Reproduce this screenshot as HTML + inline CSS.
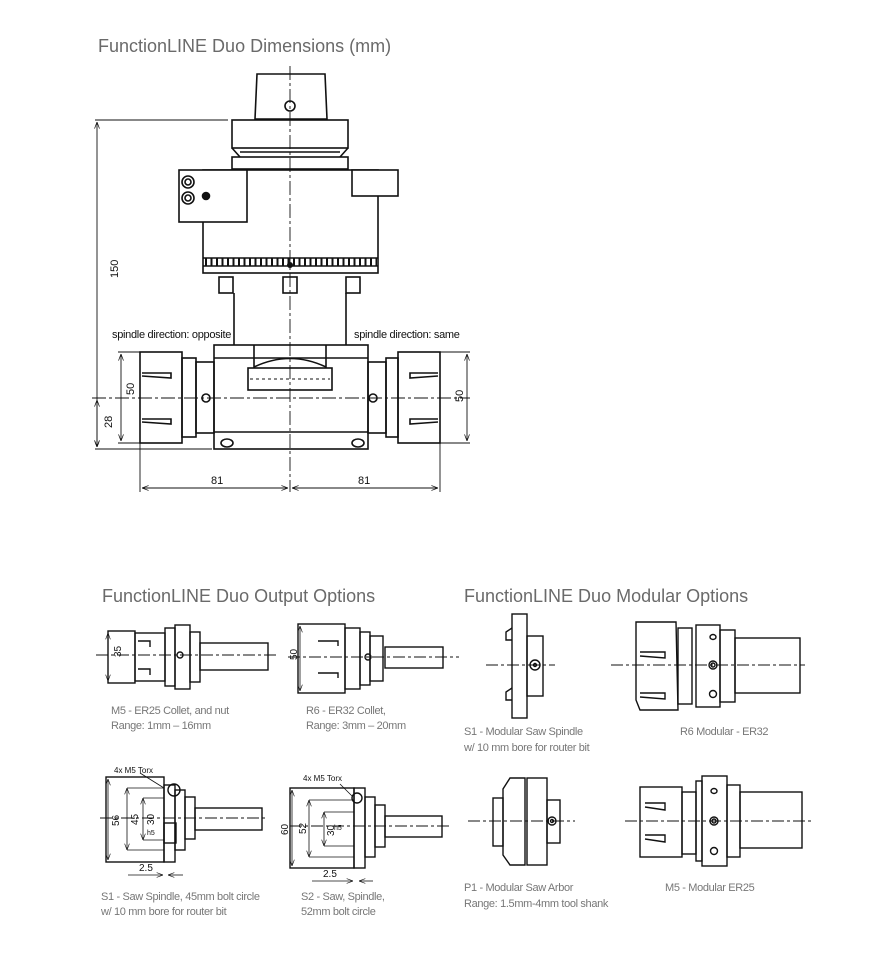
<!DOCTYPE html>
<html><head><meta charset="utf-8"><style>
html,body{margin:0;padding:0;background:#fff}
svg{display:block}
.t{font-family:"Liberation Sans",sans-serif;fill:#6a6a6a;font-size:18px}
.c{font-family:"Liberation Sans",sans-serif;fill:#777;font-size:11px;letter-spacing:-0.35px}
.d{font-family:"Liberation Sans",sans-serif;fill:#111;font-size:11px}
.s{font-family:"Liberation Sans",sans-serif;fill:#111;font-size:10px}
</style></head><body>
<svg width="875" height="965" viewBox="0 0 875 965" xmlns="http://www.w3.org/2000/svg">
<defs>
<marker id="a" markerWidth="8" markerHeight="6" refX="8" refY="3" orient="auto-start-reverse"><path d="M0,0 L8,3 L0,6" fill="none" stroke="#111" stroke-width="0.8"/></marker>
</defs>
<text class="t" x="98" y="52">FunctionLINE Duo Dimensions (mm)</text>
<text class="t" x="102" y="602">FunctionLINE Duo Output Options</text>
<text class="t" x="464" y="602">FunctionLINE Duo Modular Options</text>

<g fill="none" stroke="#111" stroke-width="1.6">
<path d="M257,74 L325,74 L327,119 L255,119 Z"/>
<circle cx="290" cy="106" r="5"/>
<rect x="232" y="120" width="116" height="28"/>
<path d="M232,148 L240,157 M348,148 L340,157 M240,152 L340,152"/>
<rect x="232" y="157" width="116" height="12"/>
<rect x="203" y="170" width="175" height="103"/>
<rect x="179" y="170" width="68" height="52" fill="#fff"/>
<rect x="352" y="170" width="46" height="26" fill="#fff"/>
<circle cx="188" cy="182" r="6"/><circle cx="188" cy="182" r="3"/>
<circle cx="188" cy="198" r="6"/><circle cx="188" cy="198" r="3"/>
<circle cx="206" cy="196" r="3.5" fill="#111"/>
<line x1="203" y1="258" x2="378" y2="258"/>
<line x1="203" y1="266" x2="378" y2="266"/>
<rect x="219" y="277" width="14" height="16"/><rect x="283" y="277" width="14" height="16"/><rect x="346" y="277" width="14" height="16"/>
<line x1="234" y1="293" x2="234" y2="345"/><line x1="346" y1="293" x2="346" y2="345"/>
<rect x="214" y="345" width="154" height="104"/>
<line x1="214" y1="358" x2="368" y2="358"/>
<line x1="214" y1="432" x2="368" y2="432"/>
<path d="M254,345 L254,367 Q290,350 326,367 L326,345"/>
<rect x="248" y="368" width="84" height="22"/>
<ellipse cx="227" cy="443" rx="6" ry="4"/><ellipse cx="358" cy="443" rx="6" ry="4"/>
<circle cx="206" cy="398" r="4"/><circle cx="373" cy="398" r="4"/>
<rect x="140" y="352" width="42" height="91"/>
<rect x="182" y="358" width="14" height="79"/><rect x="196" y="362" width="18" height="71"/>
<rect x="398" y="352" width="42" height="91"/>
<rect x="368" y="362" width="18" height="71"/><rect x="386" y="358" width="12" height="79"/>
<path d="M142,373 L171,373 L171,378 L142,376 M142,419 L171,419 L171,424 L142,422"/>
<path d="M438,373 L410,373 L410,378 L438,376 M438,419 L410,419 L410,424 L438,422"/>
</g>
<g stroke="#111">
<line x1="250" y1="379" x2="330" y2="379" stroke-dasharray="3,3" stroke-width="1"/>
<line x1="205" y1="262" x2="377" y2="262" stroke-dasharray="2,3.5" stroke-width="7"/>
</g>
<circle cx="290" cy="265" r="3" fill="#111"/>
<g stroke="#111" stroke-width="0.9" fill="none">
<line x1="290" y1="66" x2="290" y2="492" stroke-dasharray="14,3,3,3"/>
<line x1="92" y1="398" x2="470" y2="398" stroke-dasharray="14,3,3,3"/>
<line x1="95" y1="120" x2="228" y2="120"/><line x1="95" y1="449" x2="212" y2="449"/>
<line x1="97" y1="122" x2="97" y2="447" marker-start="url(#a)" marker-end="url(#a)"/>
<line x1="97" y1="400" x2="97" y2="447" marker-start="url(#a)" marker-end="url(#a)"/>
<line x1="118" y1="352" x2="140" y2="352"/><line x1="118" y1="443" x2="140" y2="443"/>
<line x1="121" y1="354" x2="121" y2="441" marker-start="url(#a)" marker-end="url(#a)"/>
<line x1="440" y1="352" x2="470" y2="352"/><line x1="440" y1="443" x2="470" y2="443"/>
<line x1="467" y1="354" x2="467" y2="441" marker-start="url(#a)" marker-end="url(#a)"/>
<line x1="140" y1="443" x2="140" y2="492"/><line x1="440" y1="443" x2="440" y2="492"/>
<line x1="142" y1="488" x2="288" y2="488" marker-start="url(#a)" marker-end="url(#a)"/>
<line x1="292" y1="488" x2="438" y2="488" marker-start="url(#a)" marker-end="url(#a)"/>
</g>
<text class="d" font-size="13" transform="translate(118,278) rotate(-90)">150</text>
<text class="d" font-size="13" transform="translate(134,395) rotate(-90)">50</text>
<text class="d" font-size="13" transform="translate(112,428) rotate(-90)">28</text>
<text class="d" font-size="13" transform="translate(463,402) rotate(-90)">50</text>
<text class="d" font-size="13" x="211" y="484">81</text>
<text class="d" font-size="13" x="358" y="484">81</text>
<text class="d" font-size="11" x="112" y="338" letter-spacing="-0.3">spindle direction: opposite</text>
<text class="d" font-size="11" x="354" y="338" letter-spacing="-0.3">spindle direction: same</text>

<g fill="none" stroke="#111" stroke-width="1.4">
<rect x="108" y="631" width="27" height="52"/><rect x="135" y="633" width="30" height="48"/>
<rect x="165" y="628" width="10" height="58"/><rect x="175" y="625" width="15" height="64"/>
<rect x="190" y="632" width="10" height="50"/>
<rect x="200" y="643" width="68" height="27"/>
<circle cx="180" cy="655" r="3"/>
<path d="M138,641 L150,641 L150,647 M138,669 L150,669 L150,675"/>
<rect x="298" y="624" width="47" height="69"/><rect x="345" y="628" width="15" height="61"/>
<rect x="360" y="632" width="10" height="53"/><rect x="370" y="636" width="13" height="45"/>
<rect x="385" y="647" width="58" height="21"/>
<circle cx="368" cy="657" r="3"/>
<path d="M318,641 L338,641 L338,646 M318,673 L338,673 L338,678"/>
<rect x="106" y="777" width="58" height="85"/><rect x="164" y="785" width="11" height="77"/>
<rect x="175" y="790" width="10" height="60"/><rect x="185" y="797" width="10" height="42"/>
<rect x="195" y="808" width="67" height="22"/>
<circle cx="174" cy="790" r="6"/>
<rect x="164" y="823" width="12" height="20"/>
<rect x="290" y="788" width="64" height="80"/><rect x="354" y="788" width="11" height="80"/>
<rect x="365" y="797" width="10" height="60"/><rect x="375" y="805" width="10" height="42"/>
<rect x="385" y="816" width="57" height="21"/>
<circle cx="357" cy="798" r="5"/>
<line x1="108" y1="633" x2="108" y2="681" stroke-width="0.8" marker-start="url(#a)" marker-end="url(#a)"/>
<line x1="300" y1="626" x2="300" y2="691" stroke-width="0.8" marker-start="url(#a)" marker-end="url(#a)"/>
<line x1="108" y1="779" x2="108" y2="860" stroke-width="0.8" marker-start="url(#a)" marker-end="url(#a)"/>
<line x1="127" y1="788" x2="127" y2="850" stroke-width="0.8" marker-start="url(#a)" marker-end="url(#a)"/>
<line x1="143" y1="798" x2="143" y2="840" stroke-width="0.8" marker-start="url(#a)" marker-end="url(#a)"/>
<line x1="292" y1="790" x2="292" y2="866" stroke-width="0.8" marker-start="url(#a)" marker-end="url(#a)"/>
<line x1="309" y1="800" x2="309" y2="857" stroke-width="0.8" marker-start="url(#a)" marker-end="url(#a)"/>
<line x1="324" y1="812" x2="324" y2="846" stroke-width="0.8" marker-start="url(#a)" marker-end="url(#a)"/>
<line x1="127" y1="788" x2="164" y2="788" stroke-width="0.8"/><line x1="127" y1="850" x2="164" y2="850" stroke-width="0.8"/>
<line x1="143" y1="798" x2="164" y2="798" stroke-width="0.8"/><line x1="143" y1="840" x2="164" y2="840" stroke-width="0.8"/>
<line x1="309" y1="800" x2="354" y2="800" stroke-width="0.8"/><line x1="309" y1="857" x2="354" y2="857" stroke-width="0.8"/>
<line x1="324" y1="812" x2="354" y2="812" stroke-width="0.8"/><line x1="324" y1="846" x2="354" y2="846" stroke-width="0.8"/>
<line x1="128" y1="875" x2="163" y2="875" stroke-width="0.8" marker-end="url(#a)"/><line x1="183" y1="875" x2="168" y2="875" stroke-width="0.8" marker-end="url(#a)"/>
<line x1="312" y1="881" x2="353" y2="881" stroke-width="0.8" marker-end="url(#a)"/><line x1="373" y1="881" x2="359" y2="881" stroke-width="0.8" marker-end="url(#a)"/>
<line x1="140" y1="773" x2="164" y2="788" stroke-width="0.8"/><line x1="340" y1="784" x2="352" y2="796" stroke-width="0.8"/>
<rect x="512" y="614" width="15" height="104"/><rect x="527" y="636" width="16" height="60"/>
<circle cx="535" cy="665" r="5"/><circle cx="535" cy="665" r="1.5"/>
<path d="M512,628 L506,632 L506,640 L512,640 M512,688 L506,692 L506,700 L512,700"/>
<path d="M636,622 L676,622 L678,710 L640,710 L636,700 Z"/>
<rect x="678" y="628" width="14" height="76"/><rect x="696" y="625" width="24" height="82"/>
<rect x="720" y="630" width="15" height="72"/><rect x="735" y="638" width="65" height="55"/>
<path d="M640,652 L665,652 L665,658 L640,656 M640,693 L665,693 L665,699 L640,697"/>
<circle cx="713" cy="665" r="4"/><circle cx="713" cy="665" r="2"/><ellipse cx="713" cy="637" rx="3" ry="2.5"/><circle cx="713" cy="694" r="3.5"/>
<path d="M510,778 L525,778 L525,865 L510,865 L503,855 L503,789 Z"/>
<rect x="493" y="798" width="10" height="48"/><rect x="527" y="778" width="20" height="87"/>
<rect x="547" y="800" width="13" height="43"/>
<circle cx="552" cy="821" r="4"/><circle cx="552" cy="821" r="1.5"/>
<rect x="640" y="787" width="42" height="70"/><rect x="682" y="792" width="14" height="62"/>
<rect x="696" y="781" width="6" height="80"/><rect x="702" y="776" width="25" height="90"/>
<rect x="727" y="785" width="13" height="72"/><rect x="740" y="792" width="62" height="56"/>
<path d="M645,803 L665,803 L665,810 L645,807 M645,835 L665,835 L665,842 L645,839"/>
<circle cx="714" cy="821" r="4"/><circle cx="714" cy="821" r="2"/><ellipse cx="714" cy="791" rx="3" ry="2.5"/><circle cx="714" cy="851" r="3.5"/>
</g>
<g stroke="#111" stroke-width="0.9" stroke-dasharray="12,3,3,3">
<line x1="96" y1="655" x2="278" y2="655"/>
<line x1="288" y1="657" x2="459" y2="657"/>
<line x1="100" y1="818" x2="268" y2="818"/>
<line x1="290" y1="826" x2="450" y2="826"/>
<line x1="486" y1="665" x2="555" y2="665"/>
<line x1="611" y1="665" x2="805" y2="665"/>
<line x1="468" y1="821" x2="575" y2="821"/>
<line x1="625" y1="821" x2="812" y2="821"/>
</g>
<g class="s">
<text transform="translate(121,657) rotate(-90)">35</text>
<text transform="translate(297,660) rotate(-90)">50</text>
<text transform="translate(119,826) rotate(-90)">56</text>
<text transform="translate(138,825) rotate(-90)">45</text>
<text transform="translate(154,825) rotate(-90)">30</text>
<text x="147" y="835" font-size="7">h5</text>
<text transform="translate(288,835) rotate(-90)">60</text>
<text transform="translate(306,834) rotate(-90)">52</text>
<text transform="translate(334,836) rotate(-90)">30</text>
<text x="334" y="830" font-size="7">h5</text>
<text x="139" y="871">2.5</text>
<text x="323" y="877">2.5</text>
<text x="114" y="773" font-size="8">4x M5 Torx</text>
<text x="303" y="781" font-size="8">4x M5 Torx</text>
</g>
<g class="c">
<text x="111" y="714">M5 - ER25 Collet, and nut</text><text x="111" y="729">Range: 1mm – 16mm</text>
<text x="306" y="714">R6 - ER32 Collet,</text><text x="306" y="729">Range: 3mm – 20mm</text>
<text x="101" y="900">S1 - Saw Spindle, 45mm bolt circle</text><text x="101" y="915">w/ 10 mm bore for router bit</text>
<text x="301" y="900">S2 - Saw, Spindle,</text><text x="301" y="915">52mm bolt circle</text>
<text x="464" y="735">S1 - Modular Saw Spindle</text><text x="464" y="751">w/ 10 mm bore for router bit</text>
<text x="680" y="735">R6 Modular - ER32</text>
<text x="464" y="891">P1 - Modular Saw Arbor</text><text x="464" y="907">Range: 1.5mm-4mm tool shank</text>
<text x="665" y="891">M5 - Modular ER25</text>
</g>
</svg>
</body></html>
